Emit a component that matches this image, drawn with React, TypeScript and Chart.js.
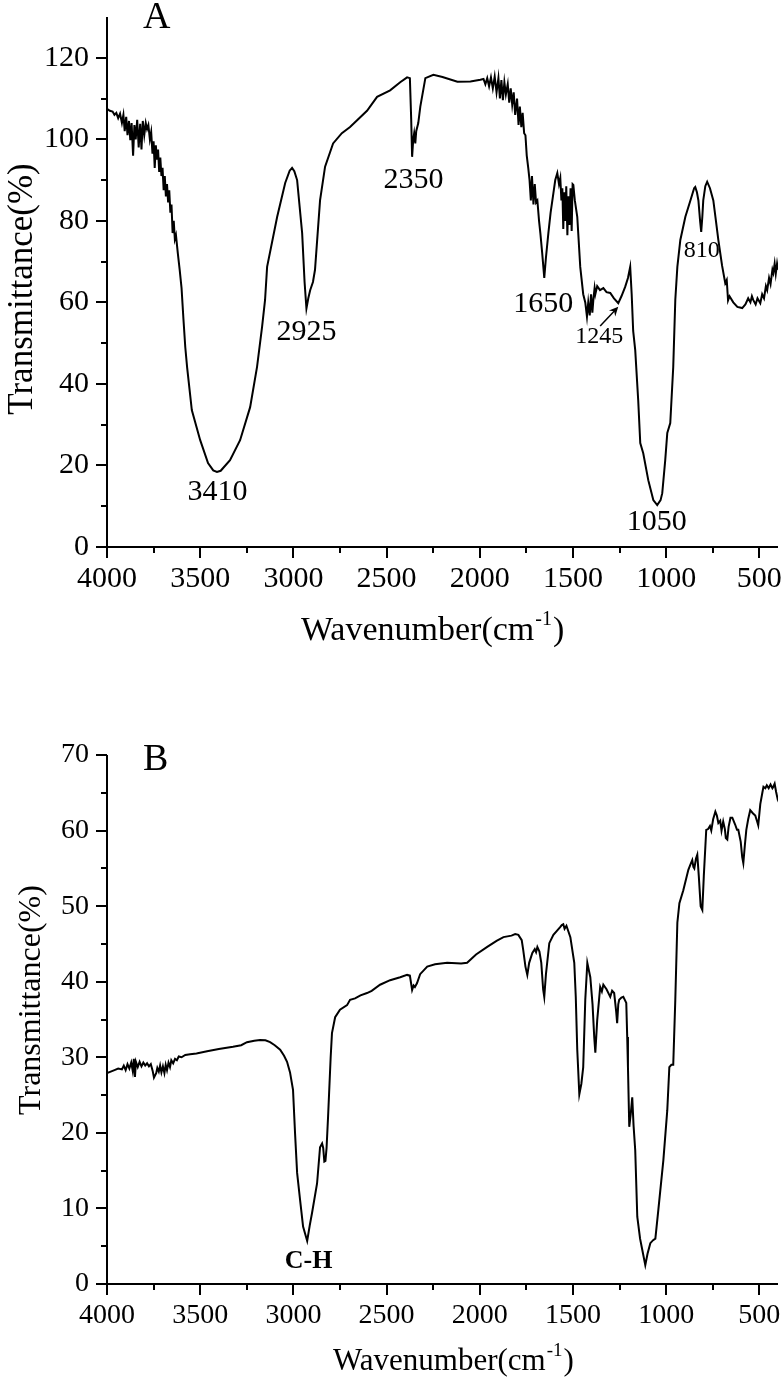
import React, { useEffect, useRef } from "react";
import { Chart, registerables } from "chart.js";

Chart.register(...registerables);

// ---------- Data ----------
const wavenumbersA = [
  4000, 3985, 3970, 3960, 3950, 3940, 3930, 3920, 3912, 3905, 3897, 3890, 3882, 3875, 3868, 3860,
  3853, 3846, 3838, 3830, 3822, 3815, 3808, 3800, 3792, 3785, 3778, 3770, 3763, 3756, 3750, 3744,
  3738, 3732, 3726, 3720, 3714, 3708, 3702, 3696, 3690, 3684, 3678, 3672, 3666, 3660, 3654, 3648,
  3642, 3636, 3630, 3620, 3610, 3600, 3590, 3580, 3570, 3545, 3500, 3458, 3430, 3410, 3390, 3340,
  3286, 3232, 3195, 3168, 3152, 3141, 3087, 3044, 3020, 3007, 2995, 2980, 2953, 2940, 2930, 2920,
  2910, 2895, 2884, 2857, 2830, 2787, 2740, 2696, 2605, 2551, 2481, 2427, 2390, 2375, 2368, 2363,
  2357, 2352, 2346, 2341, 2330, 2319, 2292, 2249, 2200, 2120, 2050, 1997, 1980, 1970, 1960, 1950,
  1940, 1930, 1920, 1910, 1900, 1892, 1884, 1876, 1868, 1860, 1850, 1842, 1834, 1826, 1818, 1810,
  1800, 1792, 1785, 1777, 1770, 1762, 1755, 1748, 1740, 1733, 1726, 1720, 1712, 1705, 1698, 1691,
  1682, 1675, 1665, 1654, 1645, 1632, 1620, 1605, 1595, 1584, 1575, 1568, 1562, 1557, 1552, 1547,
  1541, 1536, 1530, 1525, 1519, 1513, 1507, 1502, 1498, 1490, 1477, 1461, 1445, 1434, 1425, 1418,
  1410, 1403, 1396, 1390, 1384, 1380, 1370, 1355, 1337, 1320, 1300, 1280, 1257, 1240, 1220, 1205,
  1193, 1185, 1177, 1166, 1150, 1139, 1123, 1096, 1069, 1048, 1030, 1021, 1005, 994, 978, 962,
  951, 940, 924, 897, 870, 850, 844, 835, 827, 818, 812, 806, 801, 790, 780, 765,
  747, 733, 720, 700, 683, 675, 668, 660, 640, 618, 592, 575, 560, 548, 540, 533,
  520, 510, 495, 485, 475, 465, 458, 448, 440, 430, 425, 418, 412, 405, 400,
];
const transmittanceA = [
  107.5, 107, 106.8, 106, 106.5, 105.2, 106.3, 104, 106, 102, 105.5, 101, 104.5, 99.8, 104, 96,
  103.5, 100, 104.8, 98, 103.8, 97.5, 104.5, 101, 104, 102.5, 103.5, 100, 101.8, 96.5, 99.5, 93,
  98.5, 95, 97.5, 92, 95.5, 91, 93, 87.5, 91, 86, 89, 84.5, 87.5, 82, 84, 77,
  80, 75.5, 76.5, 72, 68, 63.5, 56, 49, 44, 33.6, 26.2, 20.6, 18.8, 18.4, 18.7, 21.3,
  26.2, 34.3, 44.2, 54, 60.6, 68.7, 81, 89.3, 92.3, 93, 92.2, 90, 77, 65, 58.5, 61,
  63, 65, 68, 85, 93.3, 99, 101.5, 103, 107, 110.4, 112, 114, 115.2, 115, 105, 95.7,
  100, 101.5, 99, 102, 104, 108, 115, 115.8, 115.3, 114.1, 114.2, 114.6, 114.8, 113.5, 115, 113,
  115.2, 112.5, 115.4, 111.5, 115, 110, 114.5, 109.6, 114, 111, 113.5, 109, 112.5, 108.5, 111.5, 106,
  110, 103.5, 108, 103, 106.5, 101.5, 101, 96, 93, 90, 85, 91, 84, 89, 84.5, 85,
  80, 77, 72, 66, 71, 77, 82, 86.8, 90, 91.7, 89, 90.5, 85, 88, 78, 87,
  80, 88.5, 76.5, 86, 79, 88, 77.5, 89, 88.8, 85, 81, 68.7, 62, 60, 56.5, 60,
  56.8, 62, 57.5, 61, 63.5, 62, 64, 63, 63.5, 62.5, 62.3, 61, 59.8, 61.5, 63.8, 66,
  68.7, 62, 53, 48.3, 36, 25.5, 23, 16.4, 11.5, 10.3, 11.5, 13.2, 21.3, 28, 30.4, 44.2,
  60.6, 68.7, 75.3, 81, 85, 88, 88.3, 87, 85, 80, 77.3, 81, 85, 88.5, 89.6, 88,
  85, 80, 75.3, 69, 64.7, 65.5, 60.5, 61.5, 60, 58.9, 58.6, 59.5, 61, 60, 61.5, 60.6,
  59.5, 61, 59.8, 62, 61, 64, 63, 66, 64.5, 68, 67.2, 69.5, 67, 69.5, 68,
];

const wavenumbersB = [
  4000, 3980, 3960, 3940, 3920, 3910, 3900, 3890, 3880, 3870, 3862, 3856, 3850, 3845, 3835, 3825,
  3815, 3805, 3795, 3785, 3775, 3765, 3755, 3748, 3742, 3736, 3730, 3722, 3715, 3708, 3700, 3692,
  3685, 3678, 3670, 3662, 3655, 3645, 3635, 3625, 3615, 3600, 3580, 3554, 3520, 3463, 3400, 3324,
  3280, 3249, 3210, 3179, 3150, 3125, 3100, 3071, 3050, 3034, 3018, 3002, 2991, 2980, 2964, 2948,
  2926, 2912, 2900, 2873, 2857, 2846, 2840, 2834, 2828, 2822, 2814, 2800, 2793, 2776, 2750, 2712,
  2696, 2669, 2640, 2605, 2580, 2535, 2481, 2427, 2390, 2375, 2363, 2355, 2348, 2337, 2320, 2282,
  2240, 2175, 2100, 2068, 2020, 1960, 1910, 1873, 1830, 1810, 1793, 1775, 1767, 1755, 1745, 1735,
  1718, 1705, 1698, 1691, 1680, 1670, 1660, 1654, 1645, 1627, 1605, 1584, 1570, 1560, 1552, 1545,
  1535, 1514, 1493, 1485, 1477, 1466, 1455, 1445, 1434, 1423, 1407, 1395, 1386, 1380, 1370, 1354,
  1345, 1337, 1320, 1300, 1290, 1279, 1268, 1263, 1257, 1252, 1240, 1230, 1214, 1209, 1205, 1198,
  1190, 1182, 1175, 1166, 1155, 1140, 1128, 1112, 1100, 1085, 1070, 1058, 1042, 1015, 994, 983,
  972, 962, 951, 940, 929, 908, 881, 870, 860, 854, 849, 840, 833, 825, 815, 806,
  798, 785, 775, 765, 758, 748, 736, 728, 720, 710, 703, 694, 685, 680, 672, 665,
  655, 645, 630, 620, 613, 600, 592, 586, 578, 570, 560, 549, 535, 522, 512, 506,
  495, 484, 478, 468, 460, 450, 440, 430, 425, 418, 410, 403, 400,
];
const transmittanceB = [
  27.9, 28.1, 28.3, 28.5, 28.4, 28.9, 28.3, 29.1, 28.5, 29.3, 28.2, 29.8, 27.4, 29.4, 28.7, 29.4,
  28.8, 29.3, 28.9, 29.2, 28.8, 29.1, 28.2, 27.3, 27.6, 27.9, 28.6, 28.1, 28.9, 28.0, 28.8, 27.9,
  29.0, 28.3, 29.3, 28.7, 29.6, 29.2, 29.8, 29.6, 30.1, 30.0, 30.3, 30.4, 30.5, 30.8, 31.1, 31.4,
  31.6, 32.0, 32.2, 32.3, 32.25, 32.0, 31.6, 31.0, 30.2, 29.4, 28.0, 25.7, 19.9, 14.7, 11.1, 7.6,
  5.7, 7.8, 9.4, 13.3, 18.1, 18.6, 18.0, 16.2, 16.3, 18.0, 22.1, 30.0, 33.2, 35.3, 36.3, 36.9,
  37.6, 37.8, 38.2, 38.5, 38.8, 39.6, 40.2, 40.6, 40.9, 40.8, 38.9, 39.5, 39.3, 39.8, 41.0, 42.0,
  42.3, 42.5, 42.4, 42.5, 43.6, 44.6, 45.4, 45.9, 46.1, 46.3, 46.2, 45.5, 44.2, 42.0, 40.9, 42.5,
  43.8, 44.3, 43.9, 44.6, 44.0, 42.5, 39.0, 38.0, 41.0, 45.1, 46.2, 46.8, 47.2, 47.5, 47.6, 47.0,
  47.4, 45.9, 42.5, 38.0, 31.0, 25.1, 26.5, 28.7, 37.6, 42.5, 40.6, 37.0, 32.7, 30.6, 34.9, 39.3,
  38.7, 39.6, 39.0, 38.0, 38.8, 38.5, 36.0, 34.5, 37.0, 37.6, 37.9, 38.0, 37.2, 32.7, 28.7, 20.8,
  22.5, 24.7, 21.0, 17.7, 8.9, 6.0, 4.5, 2.5, 4.0, 5.4, 5.8, 6.0, 9.8, 16.4, 23.0, 28.7,
  29.0, 29.0, 37.6, 47.8, 50.4, 52.1, 54.8, 55.5, 56.1, 55.2, 55.0, 56.3, 56.8, 54.0, 50.0, 49.5,
  54.0, 60.1, 60.2, 60.6, 60.0, 61.5, 62.5, 62.0, 61.0, 61.3, 60.0, 61.2, 60.2, 59.0, 58.8, 60.5,
  61.7, 61.7, 60.8, 60.1, 60.1, 58.5, 56.5, 55.7, 58.0, 60.1, 61.5, 62.7, 62.3, 62.0, 61.2, 60.7,
  63.5, 65.0, 65.8, 65.6, 66.0, 65.6, 66.1, 65.6, 65.8, 66.2, 65.1, 64.3, 64.6,
];

const xTickValues = [4000, 3500, 3000, 2500, 2000, 1500, 1000, 500];
const xMinorValues = [3750, 3250, 2750, 2250, 1750, 1250, 750];
const yTicksA = [0, 20, 40, 60, 80, 100, 120];
const yMinorA = [10, 30, 50, 70, 90, 110];
const yTicksB = [0, 10, 20, 30, 40, 50, 60, 70];
const yMinorB = [5, 15, 25, 35, 45, 55, 65];

const peakTextA = ["3410", "2925", "2350", "1650", "1245", "810", "1050"];
const peakTextB = ["C-H"];

const SERIF = '"Liberation Serif", "Times New Roman", serif';

type Note = { text: string; x: number; y: number; size: number; bold?: boolean };

type Panel = {
  top: number;
  height: number;
  plotTop: number;
  plotBottom: number;
  xs: number[];
  ys: number[];
  yMax: number;
  yTicks: number[];
  yMinor: number[];
  tickFont: number;
  xTickPad: number;
  letter: string;
  letterY: number;
  yTitleSize: number;
  yTitleX: number;
  yTitleCenter: number;
  xTitleSize: number;
  xTitleStart: number;
  xTitleBaseline: number;
  notes: Note[];
  arrow?: { x1: number; y1: number; x2: number; y2: number };
};

const panels: Panel[] = [
  {
    top: 0,
    height: 660,
    plotTop: 17,
    plotBottom: 547,
    xs: wavenumbersA,
    ys: transmittanceA,
    yMax: 130,
    yTicks: yTicksA,
    yMinor: yMinorA,
    tickFont: 30,
    xTickPad: 14,
    letter: "A",
    letterY: 28,
    yTitleSize: 35,
    yTitleX: 32,
    yTitleCenter: 289,
    xTitleSize: 34,
    xTitleStart: 301,
    xTitleBaseline: 640,
    notes: [
      { text: peakTextA[0], x: 3407, y: 11.5, size: 30 },
      { text: peakTextA[1], x: 2929, y: 50.8, size: 30 },
      { text: peakTextA[2], x: 2355, y: 88, size: 30 },
      { text: peakTextA[3], x: 1660, y: 57.6, size: 30 },
      { text: peakTextA[4], x: 1359, y: 50, size: 24 },
      { text: peakTextA[5], x: 809, y: 71.1, size: 24 },
      { text: peakTextA[6], x: 1050, y: 4.2, size: 30 },
    ],
    arrow: { x1: 1354, y1: 54.2, x2: 1257, y2: 58.9 },
  },
  {
    top: 680,
    height: 698,
    plotTop: 75,
    plotBottom: 604,
    xs: wavenumbersB,
    ys: transmittanceB,
    yMax: 70,
    yTicks: yTicksB,
    yMinor: yMinorB,
    tickFont: 28,
    xTickPad: 15,
    letter: "B",
    letterY: 90,
    yTitleSize: 32,
    yTitleX: 40,
    yTitleCenter: 320,
    xTitleSize: 31,
    xTitleStart: 333,
    xTitleBaseline: 690,
    notes: [{ text: peakTextB[0], x: 2918, y: 2.1, size: 26, bold: true }],
  },
];

function makeDecor(p: Panel) {
  return {
    id: "decor" + p.letter,
    afterDraw(chart: any) {
      const ctx: CanvasRenderingContext2D = chart.ctx;
      const { left, right, top, bottom } = chart.chartArea;
      const sx = chart.scales.x;
      const sy = chart.scales.y;
      ctx.save();
      ctx.strokeStyle = "#000";
      ctx.fillStyle = "#000";
      ctx.lineWidth = 2;
      // axes
      ctx.beginPath();
      ctx.moveTo(left, top);
      ctx.lineTo(left, bottom);
      ctx.lineTo(right, bottom);
      ctx.stroke();
      // ticks
      ctx.beginPath();
      xTickValues.forEach((v) => {
        const px = Math.round(sx.getPixelForValue(v));
        ctx.moveTo(px, bottom);
        ctx.lineTo(px, bottom + 11);
      });
      xMinorValues.forEach((v) => {
        const px = Math.round(sx.getPixelForValue(v));
        ctx.moveTo(px, bottom);
        ctx.lineTo(px, bottom + 6);
      });
      p.yTicks.forEach((v) => {
        const py = Math.round(sy.getPixelForValue(v));
        ctx.moveTo(left, py);
        ctx.lineTo(left - 11, py);
      });
      p.yMinor.forEach((v) => {
        const py = Math.round(sy.getPixelForValue(v));
        ctx.moveTo(left, py);
        ctx.lineTo(left - 6, py);
      });
      ctx.stroke();

      // panel letter
      ctx.textAlign = "left";
      ctx.textBaseline = "alphabetic";
      ctx.font = `38px ${SERIF}`;
      ctx.fillText(p.letter, 143, p.letterY);

      // y title
      ctx.save();
      ctx.translate(p.yTitleX, p.yTitleCenter);
      ctx.rotate(-Math.PI / 2);
      ctx.textAlign = "center";
      ctx.font = `${p.yTitleSize}px ${SERIF}`;
      ctx.fillText("Transmittance(%)", 0, 0);
      ctx.restore();

      // x title with superscript
      ctx.textAlign = "left";
      ctx.font = `${p.xTitleSize}px ${SERIF}`;
      const main = "Wavenumber(cm";
      ctx.fillText(main, p.xTitleStart, p.xTitleBaseline);
      let x = p.xTitleStart + ctx.measureText(main).width;
      const supSize = Math.round(p.xTitleSize * 0.6);
      ctx.font = `${supSize}px ${SERIF}`;
      ctx.fillText("-1", x + 1, p.xTitleBaseline - p.xTitleSize * 0.45);
      x += ctx.measureText("-1").width + 2;
      ctx.font = `${p.xTitleSize}px ${SERIF}`;
      ctx.fillText(")", x, p.xTitleBaseline);

      // annotations
      ctx.textAlign = "center";
      p.notes.forEach((n) => {
        ctx.font = `${n.bold ? "bold " : ""}${n.size}px ${SERIF}`;
        ctx.fillText(n.text, sx.getPixelForValue(n.x), sy.getPixelForValue(n.y));
      });

      if (p.arrow) {
        const x1 = sx.getPixelForValue(p.arrow.x1);
        const y1 = sy.getPixelForValue(p.arrow.y1);
        const x2 = sx.getPixelForValue(p.arrow.x2);
        const y2 = sy.getPixelForValue(p.arrow.y2);
        const ang = Math.atan2(y2 - y1, x2 - x1);
        ctx.lineWidth = 1.5;
        ctx.beginPath();
        ctx.moveTo(x1, y1);
        ctx.lineTo(x2 - 4 * Math.cos(ang), y2 - 4 * Math.sin(ang));
        ctx.stroke();
        const hl = 10;
        const hw = 0.45;
        ctx.beginPath();
        ctx.moveTo(x2, y2);
        ctx.lineTo(x2 - hl * Math.cos(ang - hw), y2 - hl * Math.sin(ang - hw));
        ctx.lineTo(x2 - hl * 0.6 * Math.cos(ang), y2 - hl * 0.6 * Math.sin(ang));
        ctx.lineTo(x2 - hl * Math.cos(ang + hw), y2 - hl * Math.sin(ang + hw));
        ctx.closePath();
        ctx.fill();
      }
      ctx.restore();
    },
  };
}

function SpectrumChart({ p }: { p: Panel }) {
  const ref = useRef<HTMLCanvasElement>(null);
  useEffect(() => {
    const canvas = ref.current;
    if (!canvas) return;
    const points = p.xs.map((x, i) => ({ x, y: p.ys[i] }));
    const chart = new Chart(canvas, {
      type: "line",
      data: {
        datasets: [
          {
            data: points,
            borderColor: "#000",
            borderWidth: 2,
            pointRadius: 0,
            tension: 0,
            fill: false,
          },
        ],
      },
      options: {
        responsive: false,
        animation: false,
        parsing: false,
        layout: { padding: { left: 0, right: 4, top: p.plotTop, bottom: 0 } },
        plugins: { legend: { display: false }, tooltip: { enabled: false } },
        scales: {
          x: {
            type: "linear",
            reverse: true,
            min: 400,
            max: 4000,
            afterBuildTicks: (s: any) => {
              s.ticks = xTickValues.map((v) => ({ value: v }));
            },
            afterFit: (s: any) => {
              s.height = p.height - p.plotBottom;
              s.paddingLeft = 0;
              s.paddingRight = 0;
            },
            grid: { display: false, drawTicks: false },
            border: { display: false },
            ticks: {
              color: "#000",
              font: { family: SERIF, size: p.tickFont },
              padding: p.xTickPad,
              maxRotation: 0,
              autoSkip: false,
              callback: (v: any) => String(v),
            },
          },
          y: {
            type: "linear",
            min: 0,
            max: p.yMax,
            afterBuildTicks: (s: any) => {
              s.ticks = p.yTicks.map((v) => ({ value: v }));
            },
            afterFit: (s: any) => {
              s.width = 107;
              s.paddingTop = 0;
              s.paddingBottom = 0;
            },
            grid: { display: false, drawTicks: false },
            border: { display: false },
            ticks: {
              color: "#000",
              font: { family: SERIF, size: p.tickFont },
              padding: 18,
              autoSkip: false,
              callback: (v: any) => String(v),
            },
          },
        },
      },
      plugins: [makeDecor(p)],
    } as any);
    return () => chart.destroy();
  }, [p]);
  return (
    <canvas
      ref={ref}
      width={782}
      height={p.height}
      style={{ position: "absolute", left: 0, top: p.top, width: 782, height: p.height }}
    />
  );
}

export default function App() {
  return (
    <div
      style={{
        position: "absolute",
        left: 0,
        top: 0,
        width: 782,
        height: 1378,
        background: "#fff",
        overflow: "hidden",
      }}
    >
      {panels.map((p) => (
        <SpectrumChart key={p.letter} p={p} />
      ))}
    </div>
  );
}
